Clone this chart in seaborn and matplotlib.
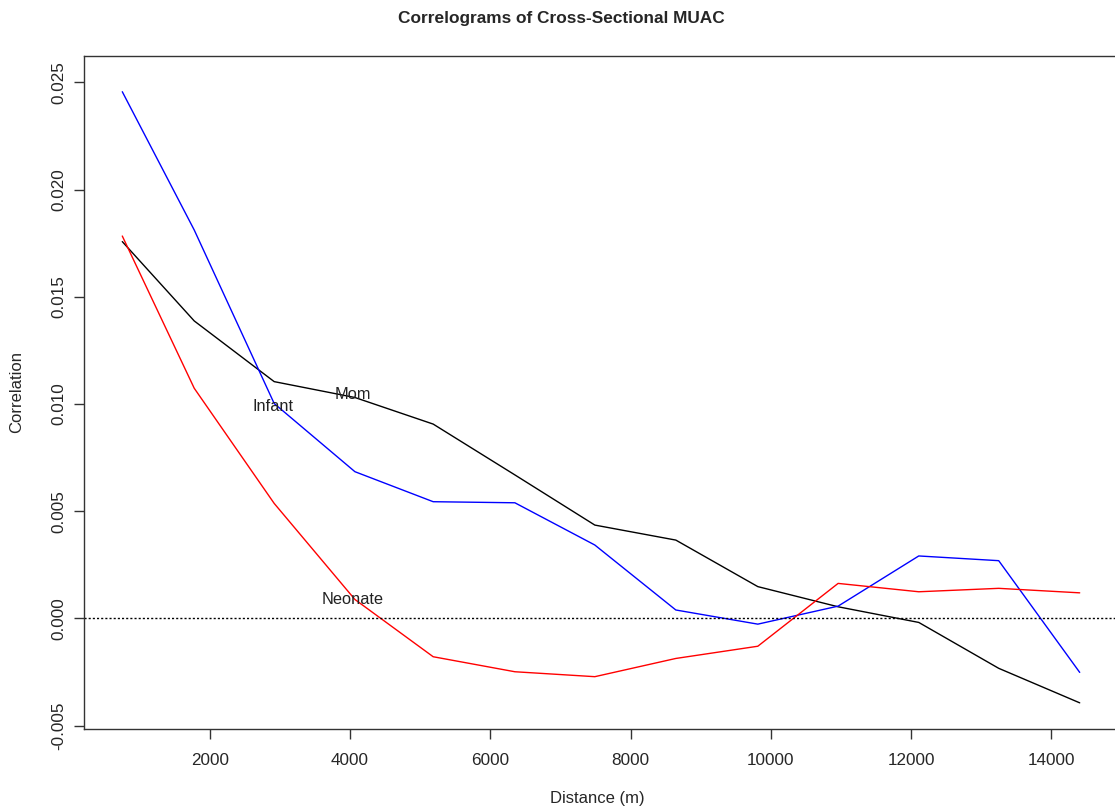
import numpy as np
import pandas as pd
import matplotlib
matplotlib.use("Agg")
import matplotlib.pyplot as plt
import seaborn as sns

distance = [753, 1779, 2919, 4070, 5186, 6351, 7491, 8646, 9815, 10960, 12110, 13250, 14405]
mom = [0.01757, 0.01387, 0.01104, 0.01030, 0.00906, 0.00669, 0.00435, 0.00365, 0.00148,
       0.00054, -0.00019, -0.00233, -0.00394]
infant = [0.02456, 0.01811, 0.01002, 0.00684, 0.00544, 0.00539, 0.00342, 0.00039, -0.00027,
          0.00057, 0.00291, 0.00269, -0.00252]
neonate = [0.01783, 0.01073, 0.00536, 0.00088, -0.00179, -0.00249, -0.00272, -0.00187, -0.00130,
           0.00163, 0.00124, 0.00140, 0.00119]
series_names = ["Mom", "Infant", "Neonate"]
label_pos = {"Infant": (2900, 0.0099), "Mom": (4040, 0.01042), "Neonate": (4040, 0.0009)}
xticks = [2000, 4000, 6000, 8000, 10000, 12000, 14000]
yticks = [-0.005, 0.000, 0.005, 0.010, 0.015, 0.020, 0.025]

df = pd.concat([
    pd.DataFrame({"Distance": distance, "Correlation": vals, "Series": name})
    for name, vals in zip(series_names, [mom, infant, neonate])
])

sns.set_style("white")
plt.rcParams["font.family"] = ["Liberation Sans", "DejaVu Sans"]

fig = plt.figure(figsize=(11.15, 8.11), dpi=100)
ax = fig.add_axes([84 / 1115, 82 / 811, (1118 - 84) / 1115, (729 - 55.7) / 811])

sns.lineplot(data=df, x="Distance", y="Correlation", hue="Series",
             palette={"Mom": "black", "Infant": "blue", "Neonate": "red"},
             linewidth=1.0, legend=False, ax=ax, sort=False, estimator=None)
ax.axhline(0, color="black", linestyle=(0, (1.5, 1.5)), linewidth=1.0)

for name, (tx, ty) in label_pos.items():
    ax.text(tx, ty, name, ha="center", va="center", fontsize=11.8, color="#222222")

ax.set_xlim(207, 14951)
ax.set_ylim(-0.00516, 0.02624)
ax.set_xticks(xticks)
ax.set_xticklabels([str(t) for t in xticks], fontsize=12.3)
ax.set_yticks(yticks)
ax.set_yticklabels([f"{t:.3f}" for t in yticks], fontsize=12.3, rotation=90, va="center")
ax.tick_params(axis="both", direction="out", length=7, width=1, color="#333333",
               bottom=True, left=True)
ax.tick_params(axis="x", pad=10)
ax.tick_params(axis="y", pad=6)
for s in ax.spines.values():
    s.set_color("#333333")
    s.set_linewidth(1.0)
ax.set_xlabel("")
ax.set_ylabel("")

fig.text(561 / 1115, 1 - 18 / 811, "Correlograms of Cross-Sectional MUAC",
         ha="center", va="center", fontsize=12.4, fontweight="bold")
fig.text(597 / 1115, 1 - 799 / 811, "Distance (m)", ha="center", va="center", fontsize=12)
fig.text(17 / 1115, 1 - 392 / 811, "Correlation", ha="center", va="center",
         fontsize=12, rotation=90)

fig.savefig("out.png", dpi=100)
